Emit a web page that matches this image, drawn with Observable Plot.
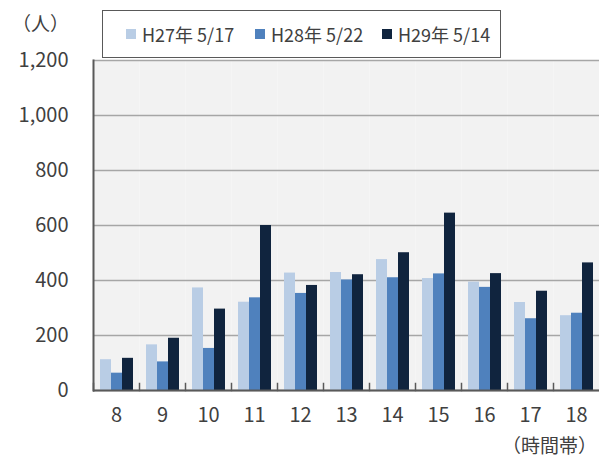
<!DOCTYPE html>
<html><head><meta charset="utf-8">
<script src="https://cdn.jsdelivr.net/npm/d3@7"></script>
<script src="https://cdn.jsdelivr.net/npm/@observablehq/plot@0.6"></script>
<style>
body{margin:0;background:#fff;}
#wrap{position:relative;width:599px;height:459px;overflow:hidden;font-family:"Noto Sans CJK JP","Noto Sans",sans-serif;color:#404040;}
#wrap svg{position:absolute;left:0;top:0;}
.lbl{position:absolute;font-size:19px;line-height:26px;white-space:nowrap;}
#legend{position:absolute;left:102px;top:10px;width:399px;height:48px;background:#fff;border:1.5px solid #595959;box-sizing:border-box;}
.item{position:absolute;top:0;height:45px;display:flex;align-items:center;font-size:18px;white-space:nowrap;}
.sw{width:10px;height:10px;margin-right:6px;}
</style></head><body><div id="wrap"></div>
<script>
const hours = [8, 9, 10, 11, 12, 13, 14, 15, 16, 17, 18];
const series = ["H27年 5/17", "H28年 5/22", "H29年 5/14"];
const h27 = [112, 166, 373, 321, 427, 429, 476, 407, 394, 320, 272];
const h28 = [63, 104, 153, 337, 353, 402, 410, 424, 375, 261, 281];
const h29 = [117, 190, 296, 600, 382, 421, 501, 645, 425, 361, 464];
const colors = ["#b9cde5", "#4f81bd", "#10243e"];
const yTicks = [0, 200, 400, 600, 800, 1000, 1200];

const values = [h27, h28, h29];
const data = hours.flatMap((h, i) => series.map((s, j) => ({hour: h, series: s, value: values[j][i]})));

const chart = Plot.plot({
  width: 599, height: 459,
  marginTop: 60, marginBottom: 69, marginLeft: 90, marginRight: -3,
  style: {fontFamily: '"Noto Sans CJK JP","Noto Sans",sans-serif', fontSize: "20px", color: "#404040", background: "transparent", overflow: "visible"},
  fx: {domain: hours, padding: 0, label: null, axis: "bottom", tickSize: 0, tickPadding: 17},
  x: {domain: series, paddingInner: 0, paddingOuter: 0.44, axis: null},
  y: {domain: [0, 1200]},
  color: {domain: series, range: colors},
  marks: [
    Plot.frame({fill: "#f2f2f2"}),
    Plot.gridY(yTicks, {stroke: "#a6a6a6", strokeOpacity: 1, strokeWidth: 1.5}),
    Plot.barY(data, {fx: "hour", x: "series", y: "value", fill: "series"}),
    Plot.frame({anchor: "left", insetTop: 323, stroke: "#595959", strokeWidth: 1.5}),
    Plot.frame({anchor: "left", facetAnchor: "left", stroke: "#595959", strokeWidth: 2}),
    Plot.ruleY([0], {stroke: "#595959", strokeWidth: 2}),
    Plot.axisY(yTicks, {tickFormat: d3.format(","), tickSize: 0, tickPadding: 25, label: null})
  ]
});
const wrap = document.getElementById("wrap");
wrap.appendChild(chart);

const legend = document.createElement("div");
legend.id = "legend";
const lefts = [23, 152, 279];
series.forEach((s, i) => {
  const it = document.createElement("div");
  it.className = "item";
  it.style.left = lefts[i] + "px";
  it.innerHTML = `<span class="sw" style="background:${colors[i]}"></span><span>${s}</span>`;
  legend.appendChild(it);
});
wrap.appendChild(legend);

const unit = document.createElement("div");
unit.className = "lbl"; unit.textContent = "（人）";
unit.style.left = "12px"; unit.style.top = "10px";
wrap.appendChild(unit);
const xl = document.createElement("div");
xl.className = "lbl"; xl.textContent = "（時間帯）";
xl.style.left = "502px"; xl.style.top = "432px";
wrap.appendChild(xl);
</script></body></html>
